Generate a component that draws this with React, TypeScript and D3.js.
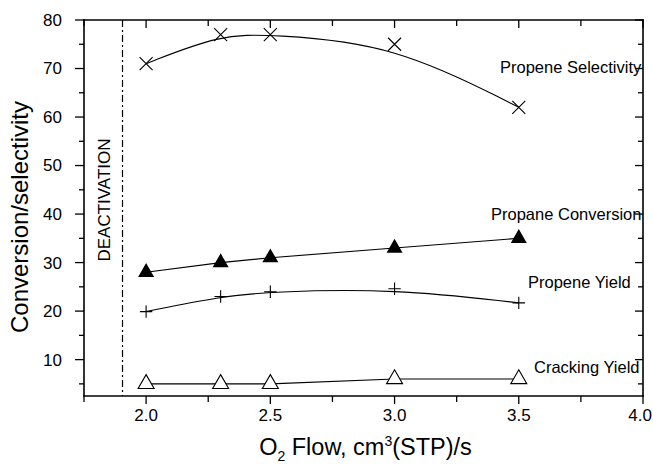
import React from 'react';
import * as d3 from 'd3';

// O2 flow rates (cm3(STP)/s) at which each run was measured
const flow = [2.0, 2.3, 2.5, 3.0, 3.5];

// Measured responses (%)
const propeneSelectivity = [71, 77, 77, 75, 62];
const propaneConversion = [28, 30, 31, 33, 35];
const propeneYield = [19.9, 23, 24, 24.6, 21.7];
const crackingYield = [5, 5, 5, 6, 6];

// Flow below which the catalyst deactivates
const deactivationFlow = 1.905;

// Axis ticks
const xMajorTicks = [2.0, 2.5, 3.0, 3.5, 4.0];
const xMinorTicks = [1.75, 2.25, 2.75, 3.25, 3.75];
const yMajorTicks = [10, 20, 30, 40, 50, 60, 70, 80];
const yMinorTicks = [5, 15, 25, 35, 45, 55, 65, 75];

const W = 653;
const H = 467;
const left = 84;
const right = 643;
const top = 20;
const bottom = 396;

const FONT = "'Liberation Sans', Arial, Helvetica, sans-serif";

export default function App() {
  const x = d3.scaleLinear().domain([1.75, 4.0]).range([left, right]);
  const y = d3.scaleLinear().domain([2.5, 80]).range([bottom, top]);

  const pts = (vals: number[]) => flow.map((f, i) => [f, vals[i]] as [number, number]);

  const splineLine = d3
    .line<[number, number]>()
    .x((d) => x(d[0]))
    .y((d) => y(d[1]))
    .curve(d3.curveBasis);
  const straightLine = d3
    .line<[number, number]>()
    .x((d) => x(d[0]))
    .y((d) => y(d[1]));

  const triSide = 16;
  const triangle = d3.symbol().type(d3.symbolTriangle).size((Math.sqrt(3) / 4) * triSide * triSide)();

  const cross = (cx: number, cy: number, r: number) =>
    `M${cx - r},${cy - r}L${cx + r},${cy + r}M${cx - r},${cy + r}L${cx + r},${cy - r}`;
  const plus = (cx: number, cy: number, r: number) =>
    `M${cx - r},${cy}L${cx + r},${cy}M${cx},${cy - r}L${cx},${cy + r}`;

  const axisW = 1.6;
  const majorLen = 8;
  const minorLen = 5;

  const tickFont = 17;
  // keep the last x label inside the drawing
  const xLabelPos = (t: number) => {
    const cx = x(t);
    const halfW = (tickFont * 1.39) / 2;
    return cx + halfW > W - 1 ? { x: W - 1, anchor: 'end' } : { x: cx, anchor: 'middle' };
  };

  return (
    <svg
      width={W}
      height={H}
      viewBox={`0 0 ${W} ${H}`}
      style={{ position: 'absolute', left: 0, top: 0, background: '#fff' }}
      fontFamily={FONT}
    >
      <rect x={0} y={0} width={W} height={H} fill="#fff" />

      {/* deactivation boundary */}
      <line
        x1={x(deactivationFlow)}
        x2={x(deactivationFlow)}
        y1={top}
        y2={bottom}
        stroke="#000"
        strokeWidth={1.2}
        strokeDasharray="7 3 2 3"
      />
      <text
        transform={`translate(${x(deactivationFlow) - 13},${200}) rotate(-90)`}
        textAnchor="middle"
        fontSize={17}
        fill="#000"
      >
        DEACTIVATION
      </text>

      {/* series lines */}
      <path d={splineLine(pts(propeneSelectivity)) || ''} fill="none" stroke="#000" strokeWidth={1.1} />
      <path d={straightLine(pts(propaneConversion)) || ''} fill="none" stroke="#000" strokeWidth={1.1} />
      <path d={splineLine(pts(propeneYield)) || ''} fill="none" stroke="#000" strokeWidth={1.1} />
      <path d={straightLine(pts(crackingYield)) || ''} fill="none" stroke="#000" strokeWidth={1.1} />

      {/* markers */}
      {pts(propeneSelectivity).map((d, i) => (
        <path key={`s${i}`} d={cross(x(d[0]), y(d[1]), 6.5)} stroke="#000" strokeWidth={1.1} fill="none" />
      ))}
      {pts(propaneConversion).map((d, i) => (
        <path key={`c${i}`} d={triangle || ''} transform={`translate(${x(d[0])},${y(d[1])})`} fill="#000" />
      ))}
      {pts(propeneYield).map((d, i) => (
        <path key={`y${i}`} d={plus(x(d[0]), y(d[1]), 6.2)} stroke="#000" strokeWidth={1.1} fill="none" />
      ))}
      {pts(crackingYield).map((d, i) => (
        <path
          key={`k${i}`}
          d={triangle || ''}
          transform={`translate(${x(d[0])},${y(d[1])})`}
          fill="#fff"
          stroke="#000"
          strokeWidth={1.1}
        />
      ))}

      {/* series labels */}
      <g fontSize={16.5} fill="#000">
        <text x={500} y={y(69)}>Propene Selectivity</text>
        <text x={491} y={y(38.8)}>Propane Conversion</text>
        <text x={528} y={y(24.7)}>Propene Yield</text>
        <text x={534} y={y(7.3)}>Cracking Yield</text>
      </g>

      {/* frame */}
      <g stroke="#000" strokeWidth={axisW} strokeLinecap="square">
        <line x1={left} x2={right} y1={top} y2={top} />
        <line x1={left} x2={right} y1={bottom} y2={bottom} />
        <line x1={left} x2={left} y1={top} y2={bottom} />
        <line x1={right} x2={right} y1={top} y2={bottom} />
      </g>

      {/* x ticks: outward on bottom, inward on top; y ticks: outward on left, inward on right */}
      <g stroke="#000" strokeWidth={1.3}>
        {xMajorTicks.map((t) => (
          <g key={`xm${t}`}>
            <line x1={x(t)} x2={x(t)} y1={bottom} y2={bottom + majorLen} />
            <line x1={x(t)} x2={x(t)} y1={top} y2={top + majorLen} />
          </g>
        ))}
        {xMinorTicks.map((t) => (
          <g key={`xn${t}`}>
            <line x1={x(t)} x2={x(t)} y1={bottom} y2={bottom + minorLen + 1} />
            <line x1={x(t)} x2={x(t)} y1={top} y2={top + minorLen + 1} />
          </g>
        ))}
        {yMajorTicks.map((t) => (
          <g key={`ym${t}`}>
            <line x1={left - majorLen - 1} x2={left} y1={y(t)} y2={y(t)} />
            <line x1={right - majorLen} x2={right} y1={y(t)} y2={y(t)} />
          </g>
        ))}
        {yMinorTicks.map((t) => (
          <g key={`yn${t}`}>
            <line x1={left - minorLen} x2={left} y1={y(t)} y2={y(t)} />
            <line x1={right - minorLen} x2={right} y1={y(t)} y2={y(t)} />
          </g>
        ))}
      </g>

      {/* tick labels */}
      <g fontSize={tickFont} fill="#000">
        {xMajorTicks.map((t) => {
          const p = xLabelPos(t);
          return (
            <text key={`xl${t}`} x={p.x} y={bottom + 25} textAnchor={p.anchor}>
              {t.toFixed(1)}
            </text>
          );
        })}
        {yMajorTicks.map((t) => (
          <text key={`yl${t}`} x={left - 22} y={y(t)} dy="0.35em" textAnchor="end">
            {t}
          </text>
        ))}
      </g>

      {/* axis titles */}
      <text x={(left + right) / 2 + 2} y={bottom + 59} textAnchor="middle" fontSize={23.5} fill="#000">
        O<tspan fontSize={14} dy={6}>2</tspan>
        <tspan dy={-6}> Flow, cm</tspan>
        <tspan fontSize={14} dy={-9}>3</tspan>
        <tspan dy={9}>(STP)/s</tspan>
      </text>
      <text
        transform={`translate(${28},${217}) rotate(-90)`}
        textAnchor="middle"
        fontSize={24}
        fill="#000"
      >
        Conversion/selectivity
      </text>
    </svg>
  );
}
